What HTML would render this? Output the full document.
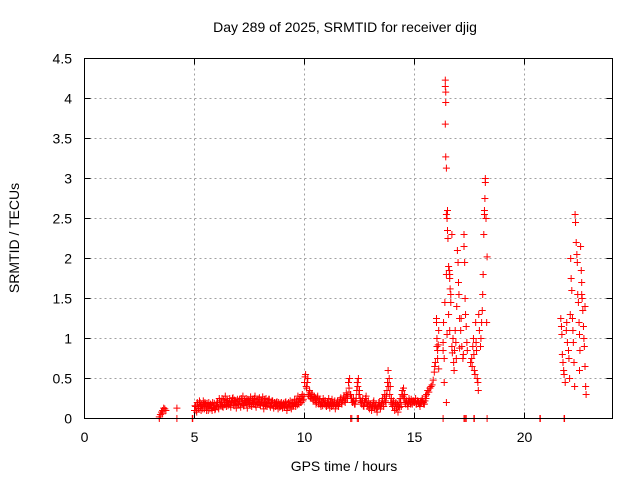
<!DOCTYPE html>
<html><head><meta charset="utf-8"><style>
html,body{margin:0;padding:0;background:#fff}
svg{display:block;font-family:"Liberation Sans",sans-serif}
</style></head><body>
<svg id="chart" width="640" height="480" viewBox="0 0 640 480">
<rect width="640" height="480" fill="#fff"/>
<text x="345" y="32" font-size="14" text-anchor="middle">Day 289 of 2025, SRMTID for receiver djig</text>
<g id="grid"></g>
<g id="marks"></g>
<rect x="84.5" y="58.5" width="528" height="360" fill="none" stroke="#000" stroke-width="1"/>
<g id="ticks"></g>
<text x="344" y="471" font-size="14" text-anchor="middle">GPS time / hours</text>
<text x="19" y="238" font-size="14" text-anchor="middle" transform="rotate(-90 19 238)">SRMTID / TECUs</text>
</svg>
<script>
const xTicks=[0,5,10,15,20];
const yTicks=[0,0.5,1,1.5,2,2.5,3,3.5,4,4.5];
const yTickLabels=["0","0.5","1","1.5","2","2.5","3","3.5","4","4.5"];
const baseStart=5.0;
const baseStep=0.05;
const baseValues=[
0.10,0.15,0.08,0.18,0.12,0.2,0.1,0.16,0.22,0.12,0.18,0.1,0.15,0.2,0.12,0.17,0.1,0.14,0.19,0.12,
0.15,0.2,0.12,0.22,0.16,0.25,0.14,0.2,0.28,0.15,0.22,0.18,0.25,0.14,0.2,0.26,0.16,0.22,0.13,0.24,
0.18,0.24,0.14,0.22,0.28,0.16,0.2,0.25,0.13,0.22,0.18,0.27,0.15,0.23,0.19,0.28,0.14,0.24,0.2,0.26,
0.16,0.22,0.27,0.12,0.2,0.25,0.15,0.19,0.24,0.14,0.18,0.22,0.13,0.2,0.16,0.21,0.12,0.18,0.15,0.2,
0.13,0.19,0.15,0.21,0.1,0.18,0.14,0.22,0.12,0.2,0.16,0.24,0.15,0.22,0.28,0.18,0.25,0.2,0.3,0.24,
0.45,0.55,0.38,0.5,0.28,0.32,0.25,0.3,0.22,0.28,0.25,0.2,0.28,0.18,0.22,0.15,0.2,0.25,0.18,0.22,
0.15,0.2,0.25,0.13,0.19,0.24,0.16,0.2,0.12,0.18,0.22,0.15,0.2,0.26,0.18,0.22,0.28,0.2,0.32,0.25,
0.45,0.5,0.3,0.25,0.2,0.22,0.18,0.25,0.45,0.5,0.35,0.22,0.18,0.25,0.15,0.2,0.28,0.15,0.22,0.12,
0.18,0.1,0.15,0.22,0.12,0.18,0.08,0.15,0.2,0.12,0.18,0.25,0.15,0.3,0.2,0.35,0.6,0.5,0.4,0.25,
0.15,0.22,0.1,0.2,0.15,0.08,0.2,0.25,0.15,0.35,0.38,0.3,0.18,0.22,0.15,0.25,0.2,0.24,0.18,0.22,
0.2,0.25,0.18,0.22,0.2,0.15,0.22,0.25,0.2,0.18,0.28];
const baseValues2=[
0.16,0.1,0.2,0.13,0.22,0.15,0.17,0.12,0.18,0.2,0.14,0.19,0.1,0.16,0.18,0.13,0.2,0.16,0.11,0.17,
0.2,0.14,0.25,0.18,0.2,0.15,0.24,0.17,0.2,0.23,0.16,0.21,0.17,0.22,0.25,0.19,0.23,0.17,0.21,0.18,
0.22,0.17,0.25,0.19,0.16,0.23,0.21,0.17,0.24,0.19,0.23,0.17,0.22,0.2,0.25,0.17,0.21,0.18,0.24,0.17,
0.22,0.19,0.17,0.24,0.16,0.18,0.22,0.24,0.16,0.2,0.22,0.16,0.2,0.15,0.2,0.16,0.2,0.14,0.19,0.16,
0.18,0.14,0.2,0.16,0.14,0.2,0.18,0.15,0.19,0.15,0.2,0.18,0.22,0.17,0.2,0.24,0.2,0.27,0.22,0.28,
0.52,0.4,0.45,0.3,0.35,0.27,0.3,0.24,0.27,0.22,0.18,0.26,0.2,0.24,0.18,0.2,0.16,0.2,0.22,0.16,
0.2,0.17,0.18,0.2,0.15,0.2,0.18,0.22,0.16,0.2,0.17,0.2,0.24,0.2,0.22,0.26,0.22,0.25,0.28,0.3,
0.38,0.3,0.25,0.2,0.25,0.18,0.22,0.35,0.4,0.3,0.25,0.2,0.22,0.16,0.2,0.25,0.2,0.18,0.15,0.18,
0.14,0.16,0.2,0.15,0.16,0.12,0.14,0.2,0.16,0.15,0.22,0.18,0.25,0.22,0.28,0.45,0.4,0.3,0.2,0.18,
0.2,0.15,0.18,0.12,0.18,0.15,0.14,0.2,0.3,0.28,0.25,0.2,0.22,0.18,0.2,0.22,0.18,0.2,0.22,0.2,
0.22,0.18,0.22,0.2,0.18,0.2,0.2,0.22,0.18,0.22,0.25];
const extraTimes=[3.4,3.45,3.5,3.55,3.6,3.65,3.7,3.55,4.2,
15.55,15.6,15.65,15.7,15.75,15.8,15.85,15.9,15.92,15.95,
16.0,16.0,16.02,16.02,16.05,16.05,16.08,16.1,16.1,
16.3,16.3,16.32,16.35,16.35,16.38,
16.4,16.4,16.42,16.42,16.4,16.42,16.45,16.45,16.48,16.5,16.5,16.52,16.45,16.48,16.45,
16.55,16.58,16.6,16.6,16.62,16.65,16.65,16.7,16.55,16.6,16.7,16.72,16.75,16.78,16.8,16.82,16.85,16.88,16.9,
16.92,16.95,16.98,17.0,17.02,17.05,17.05,17.1,17.12,17.15,
17.2,17.22,17.25,17.25,17.28,17.3,17.32,17.35,17.38,17.4,
17.55,17.6,17.62,17.65,17.68,17.7,17.72,17.75,17.78,17.8,17.82,17.85,17.88,17.9,17.92,17.95,
18.0,18.02,18.05,18.08,18.1,18.12,18.15,18.18,18.18,18.2,18.22,18.22,18.25,18.28,18.3,
21.65,21.68,21.7,21.72,21.75,21.78,21.8,21.85,21.9,21.92,21.95,22.0,22.02,22.05,22.08,22.1,22.12,22.15,22.18,22.2,22.22,22.25,22.28,
22.3,22.32,22.35,22.38,22.4,22.42,22.45,22.48,22.5,22.52,22.55,22.58,22.6,22.62,22.65,22.68,22.7,22.72,22.75,22.78,22.8,22.6,22.75,22.5,
3.4,4.2,4.9,4.92,12.1,12.15,12.4,12.45,16.3,17.25,17.3,17.35,17.7,17.72,18.3,20.7,20.72,21.8,21.82];
const extraValues=[0.02,0.05,0.08,0.1,0.13,0.12,0.1,0.06,0.13,
0.3,0.35,0.33,0.38,0.4,0.42,0.48,0.58,0.65,0.7,
1.25,1.2,1.0,0.9,0.85,0.75,0.92,1.1,0.62,
0.95,0.85,1.2,0.75,0.45,1.45,
4.23,4.15,4.08,3.95,3.68,3.27,3.13,2.55,2.5,2.6,2.35,2.25,0.2,1.05,1.8,
1.9,1.85,1.8,1.75,1.62,1.55,1.45,2.3,1.3,1.1,0.9,0.82,1.0,0.7,0.6,0.85,1.1,0.95,0.75,
1.4,2.1,1.95,1.7,1.55,1.25,0.88,1.1,1.25,0.9,
0.75,0.8,2.3,2.15,1.95,1.5,1.3,1.15,0.95,0.85,
0.7,0.75,0.65,0.9,1.0,0.8,0.6,0.55,1.2,0.95,0.85,0.5,0.45,0.35,1.3,1.1,
0.9,1.0,1.2,1.35,1.55,1.8,2.3,2.55,2.6,2.75,3.0,2.95,2.5,1.2,2.02,
1.25,1.15,1.05,0.8,0.7,0.6,0.55,0.45,1.1,1.2,0.95,0.85,0.75,0.5,1.3,2.0,1.75,1.6,1.25,1.1,0.95,0.7,0.4,
2.55,2.45,2.2,2.05,1.95,1.55,1.45,1.2,1.05,0.85,2.15,1.85,1.7,1.5,1.35,1.15,1.0,0.9,0.65,0.4,0.3,1.55,1.4,0.6,
0,0,0,0,0,0,0,0,0,0,0,0,0,0,0,0,0,0,0];

const X0=84.5,X1=612.5,Y0=418.5,Y1=58.5,XMAX=24,YMAX=4.5;
function xs(t){return X0+(X1-X0)*t/XMAX;}
function ys(v){return Y0-(Y0-Y1)*v/YMAX;}
const NS="http://www.w3.org/2000/svg";
const grid=document.getElementById('grid'),ticks=document.getElementById('ticks'),marks=document.getElementById('marks');
function mk(tag,attrs,parent){const e=document.createElementNS(NS,tag);for(const k in attrs)e.setAttribute(k,attrs[k]);parent.appendChild(e);return e;}
xTicks.forEach(function(t){
  const x=xs(t);
  if(t>0){const g=mk('line',{x1:x,x2:x,y1:Y1,y2:Y0,stroke:'#a0a0a0','stroke-dasharray':'2,3','stroke-width':1},grid);
  
  }
  const tk=mk('path',{d:'M'+x+' '+Y0+'v-6M'+x+' '+Y1+'v6',stroke:'#000'},ticks);
  
  
  const lb=mk('text',{x:x,y:442,'font-size':14,'text-anchor':'middle'},ticks);
  lb.textContent=String(t);
  
  
});
yTicks.forEach(function(v,i){
  const y=ys(v);
  if(v>0&&v<YMAX){const g=mk('line',{x1:X0,x2:X1,y1:y,y2:y,stroke:'#a0a0a0','stroke-dasharray':'2,3','stroke-width':1},grid);
  
  }
  const tk=mk('path',{d:'M'+X0+' '+y+'h6M'+X1+' '+y+'h-6',stroke:'#000'},ticks);
  
  
  const lb=mk('text',{x:72,y:y+5,'font-size':14,'text-anchor':'end'},ticks);
  lb.textContent=yTickLabels[i];
  
  
});
function plus(t,v){
  const x=xs(t),y=ys(v);
  const p=mk('path',{d:'M'+(x-3.5)+' '+y+'h7M'+x+' '+(y-3.5)+'v7',stroke:'#ff0000','stroke-width':1,fill:'none'},marks);
  
  
}
baseValues.forEach(function(v,i){plus(baseStart+i*baseStep,v);});
baseValues2.forEach(function(v,i){plus(baseStart+0.025+i*baseStep,v);});
extraTimes.forEach(function(t,i){plus(t,extraValues[i]);});
</script>
</body></html>
